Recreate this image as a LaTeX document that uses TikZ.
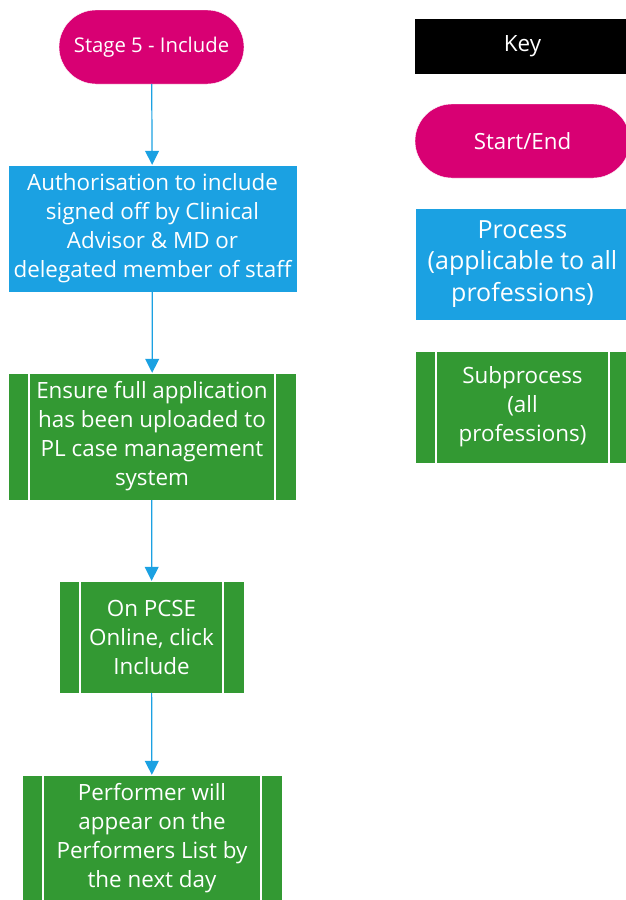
\documentclass[tikz,border=0pt]{standalone}
\usepackage{fontspec}
\setmainfont{Open Sans}
\usetikzlibrary{arrows.meta,positioning}
\definecolor{startpink}{HTML}{D80073}
\definecolor{procblue}{HTML}{1BA1E2}
\definecolor{subgreen}{HTML}{339933}

\begin{document}
\begin{tikzpicture}[x=1pt,y=-1pt,
    startend/.style={draw=white, fill=startpink, text=white, rounded corners=37pt,
      minimum height=74pt, inner sep=0pt, align=center},
    procbox/.style={draw=white, fill=procblue, text=white, inner sep=0pt, align=center},
    subbox/.style={draw=white, fill=subgreen, text=white, inner sep=0pt, align=center,
      path picture={
        \draw[white, line width=1.2pt]
          ([xshift=21pt]path picture bounding box.north west) -- ([xshift=21pt]path picture bounding box.south west)
          ([xshift=-21pt]path picture bounding box.north east) -- ([xshift=-21pt]path picture bounding box.south east);}},
    keybox/.style={fill=black, text=white, inner sep=0pt},
    flow/.style={procblue, line width=1.2pt, -{Triangle[width=14pt,length=14pt]}},
    bodytext/.style={font=\fontsize{22.4}{29}\selectfont}]

    \useasboundingbox (0,0) rectangle (626,900);

    % Flow: stage 5
    \node[startend, minimum width=185pt, font=\fontsize{20.3}{24}\selectfont] (stage) at (151.5,47) {Stage 5 - Include};

    \node[procbox, bodytext, minimum width=289pt, minimum height=127pt] (authorise) at (152.5,228.5)
        {Authorisation to include\\signed off by Clinical\\Advisor \& MD or\\delegated member of staff};

    \node[subbox, bodytext, minimum width=288pt, minimum height=127pt] (upload) at (152,436.5)
        {Ensure full application\\has been uploaded to\\PL case management\\system};

    \node[subbox, bodytext, minimum width=185pt, minimum height=112pt] (pcse) at (151.5,637)
        {On PCSE\\Online, click\\Include};

    \node[subbox, bodytext, minimum width=260pt, minimum height=127pt] (performer) at (152,838.5)
        {Performer will\\appear on the\\Performers List by\\the next day};

    % Connectors
    \draw[flow] (stage) -- (authorise);
    \draw[flow] (authorise) -- (upload);
    \draw[flow] (upload) -- (pcse);
    \draw[flow] (pcse) -- (performer);

    % Key
    \node[keybox, minimum width=215pt, minimum height=55pt, font=\fontsize{22.4}{26}\selectfont] (key) at (522.5,46.5) {Key};
    \node[startend, minimum width=215pt, font=\fontsize{22.3}{26}\selectfont] (keystart) at (522.5,141) {Start/End};
    \node[procbox, minimum width=215pt, minimum height=112pt, font=\fontsize{25}{31.5}\selectfont] (keyproc) at (522.5,264)
        {Process\\(applicable to all\\professions)};
    \node[subbox, bodytext, minimum width=215pt, minimum height=112pt] (keysub) at (522.5,407)
        {Subprocess\\(all\\professions)};
\end{tikzpicture}
\end{document}
